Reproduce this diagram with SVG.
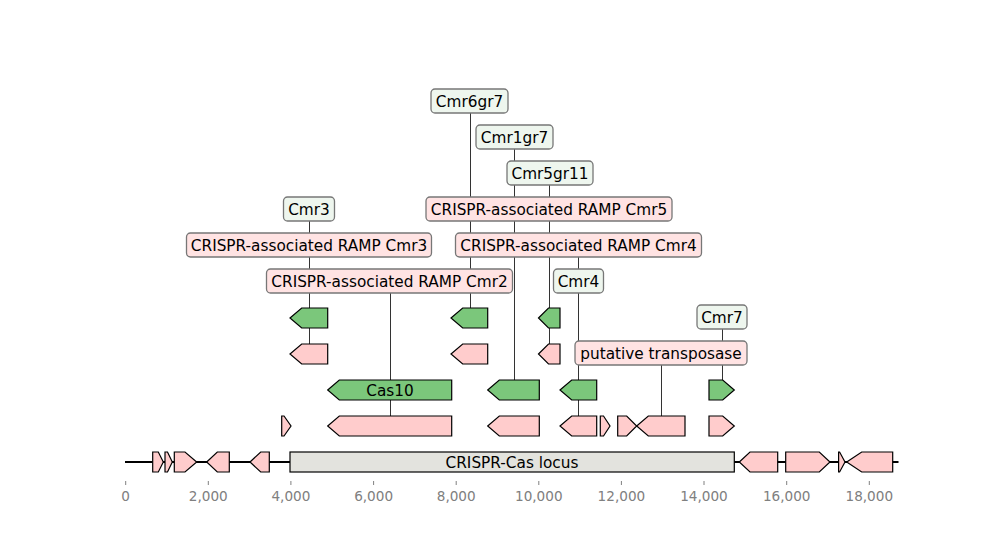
<svg xmlns="http://www.w3.org/2000/svg" width="1000" height="540" viewBox="0 0 1000 540">
<style>
.pk{fill:#ffcccc;stroke:#000;stroke-width:1.2;stroke-linejoin:miter}
.gr{fill:#7bc77b;stroke:#000;stroke-width:1.2}
.loc{fill:#e3e3de;stroke:#000;stroke-width:1.2}
.ld{stroke:#333;stroke-width:1;fill:none}
.lg{fill:#eef6ee;stroke:#777;stroke-width:1.3}
.lp{fill:#ffe3e3;stroke:#777;stroke-width:1.3}
.t{font-family:"DejaVu Sans","Liberation Sans",sans-serif;font-size:15.3px;fill:#000;text-anchor:middle}
.tk{font-family:"DejaVu Sans","Liberation Sans",sans-serif;font-size:13.6px;fill:#808080;text-anchor:middle}
.tm{stroke:#808080;stroke-width:1}
</style>
<rect width="1000" height="540" fill="#fff"/>
<g id="connectors">
<line class="ld" x1="470.5" y1="101" x2="470.5" y2="308"/>
<line class="ld" x1="514.5" y1="137" x2="514.5" y2="380"/>
<line class="ld" x1="549.5" y1="173" x2="549.5" y2="308"/>
<line class="ld" x1="309.5" y1="209" x2="309.5" y2="308"/>
<line class="ld" x1="549.5" y1="209" x2="549.5" y2="344"/>
<line class="ld" x1="309.5" y1="245" x2="309.5" y2="344"/>
<line class="ld" x1="578.5" y1="245" x2="578.5" y2="416"/>
<line class="ld" x1="390.5" y1="281" x2="390.5" y2="416"/>
<line class="ld" x1="578.5" y1="281" x2="578.5" y2="380"/>
<line class="ld" x1="722.5" y1="317" x2="722.5" y2="380"/>
<line class="ld" x1="661.5" y1="353" x2="661.5" y2="416"/>
</g>
<g id="axis">
<line x1="125" y1="462" x2="898.5" y2="462" stroke="#000" stroke-width="2"/>
<g class="tm">
<line x1="125.7" y1="481" x2="125.7" y2="485"/>
<line x1="208.3" y1="481" x2="208.3" y2="485"/>
<line x1="290.9" y1="481" x2="290.9" y2="485"/>
<line x1="373.6" y1="481" x2="373.6" y2="485"/>
<line x1="456.2" y1="481" x2="456.2" y2="485"/>
<line x1="538.8" y1="481" x2="538.8" y2="485"/>
<line x1="621.4" y1="481" x2="621.4" y2="485"/>
<line x1="704" y1="481" x2="704" y2="485"/>
<line x1="786.7" y1="481" x2="786.7" y2="485"/>
<line x1="869.3" y1="481" x2="869.3" y2="485"/>
</g>
<text class="tk" x="125.7" y="501">0</text>
<text class="tk" x="208.3" y="501">2,000</text>
<text class="tk" x="290.9" y="501">4,000</text>
<text class="tk" x="373.6" y="501">6,000</text>
<text class="tk" x="456.2" y="501">8,000</text>
<text class="tk" x="538.8" y="501">10,000</text>
<text class="tk" x="621.4" y="501">12,000</text>
<text class="tk" x="704" y="501">14,000</text>
<text class="tk" x="786.7" y="501">16,000</text>
<text class="tk" x="869.3" y="501">18,000</text>
</g>
<g id="track0">
<polygon class="pk" points="152.7,452 158.3,452 163.3,462 158.3,472 152.7,472"/>
<polygon class="pk" points="165,452 167.5,452 172.3,462 167.5,472 165,472"/>
<polygon class="pk" points="174.3,452 185,452 196.7,462 185,472 174.3,472"/>
<polygon class="pk" points="206.7,462 217.3,452 229.3,452 229.3,472 217.3,472"/>
<polygon class="pk" points="250,462 260.7,452 269.3,452 269.3,472 260.7,472"/>
<g id="locus"><rect class="loc" x="290" y="452" width="444.3" height="20"/>
<text class="t" x="512" y="467.5">CRISPR-Cas locus</text></g>
<polygon class="pk" points="739.3,462 750,452 777.7,452 777.7,472 750,472"/>
<polygon class="pk" points="785.7,452 819.3,452 830,462 819.3,472 785.7,472"/>
<polygon class="pk" points="838.6,452 839.6,452 845,462 839.6,472 838.6,472"/>
<polygon class="pk" points="846.7,462 861.7,452 892.7,452 892.7,472 861.7,472"/>
</g>
<g id="track426">
<polygon class="pk" points="281.7,416 284,416 291,426 284,436 281.7,436"/>
<polygon class="pk" points="327.7,426 339.3,416 451.7,416 451.7,436 339.3,436"/>
<polygon class="pk" points="487.7,426 499.3,416 539.3,416 539.3,436 499.3,436"/>
<polygon class="pk" points="560,426 571.7,416 596.7,416 596.7,436 571.7,436"/>
<polygon class="pk" points="600.3,416 603.5,416 610,426 603.5,436 600.3,436"/>
<polygon class="pk" points="617.7,416 626.7,416 636.7,426 626.7,436 617.7,436"/>
<polygon class="pk" points="636.7,426 648.3,416 685,416 685,436 648.3,436"/>
<polygon class="pk" points="709,416 722.7,416 734.3,426 722.7,436 709,436"/>
</g>
<g id="track390">
<g id="cas10"><polygon class="gr" points="327.7,390 339.3,380 451.7,380 451.7,400 339.3,400"/>
<text class="t" x="390" y="395.5">Cas10</text></g>
<polygon class="gr" points="487.7,390 499.3,380 539.3,380 539.3,400 499.3,400"/>
<polygon class="gr" points="560,390 571.7,380 596.7,380 596.7,400 571.7,400"/>
<polygon class="gr" points="709,380 722.7,380 734.3,390 722.7,400 709,400"/>
</g>
<g id="track354">
<polygon class="pk" points="290,354 301.7,344 327.7,344 327.7,364 301.7,364"/>
<polygon class="pk" points="451,354 462.7,344 487.7,344 487.7,364 462.7,364"/>
<polygon class="pk" points="538.5,354 548.5,344 560,344 560,364 548.5,364"/>
</g>
<g id="track318">
<polygon class="gr" points="290,318 301.7,308 327.7,308 327.7,328 301.7,328"/>
<polygon class="gr" points="451,318 462.7,308 487.7,308 487.7,328 462.7,328"/>
<polygon class="gr" points="538.5,318 548.5,308 560,308 560,328 548.5,328"/>
</g>
<g id="labels">
<g id="l-cmr6gr7"><rect class="lg" x="431" y="89" width="77" height="24" rx="4"/><text class="t" x="469.5" y="106.5">Cmr6gr7</text></g>
<g id="l-cmr1gr7"><rect class="lg" x="476" y="125" width="77" height="24" rx="4"/><text class="t" x="514.5" y="142.5">Cmr1gr7</text></g>
<g id="l-cmr5gr11"><rect class="lg" x="507" y="161" width="86" height="24" rx="4"/><text class="t" x="550" y="178.5">Cmr5gr11</text></g>
<g id="l-cmr3"><rect class="lg" x="283.5" y="197" width="51" height="24" rx="4"/><text class="t" x="309" y="214.5">Cmr3</text></g>
<g id="l-ramp5"><rect class="lp" x="426" y="197" width="246" height="24" rx="4"/><text class="t" x="549" y="214.5">CRISPR-associated RAMP Cmr5</text></g>
<g id="l-ramp3"><rect class="lp" x="186.5" y="233" width="245" height="24" rx="4"/><text class="t" x="309" y="250.5">CRISPR-associated RAMP Cmr3</text></g>
<g id="l-ramp4"><rect class="lp" x="455.5" y="233" width="246" height="24" rx="4"/><text class="t" x="578.5" y="250.5">CRISPR-associated RAMP Cmr4</text></g>
<g id="l-ramp2"><rect class="lp" x="266.5" y="269" width="246" height="24" rx="4"/><text class="t" x="389.5" y="286.5">CRISPR-associated RAMP Cmr2</text></g>
<g id="l-cmr4"><rect class="lg" x="553.5" y="269" width="50" height="24" rx="4"/><text class="t" x="578.5" y="286.5">Cmr4</text></g>
<g id="l-cmr7"><rect class="lg" x="697" y="305" width="50" height="24" rx="4"/><text class="t" x="722" y="322.5">Cmr7</text></g>
<g id="l-transposase"><rect class="lp" x="575" y="341" width="172" height="24" rx="4"/><text class="t" x="661" y="358.5">putative transposase</text></g>
</g>
</svg>
